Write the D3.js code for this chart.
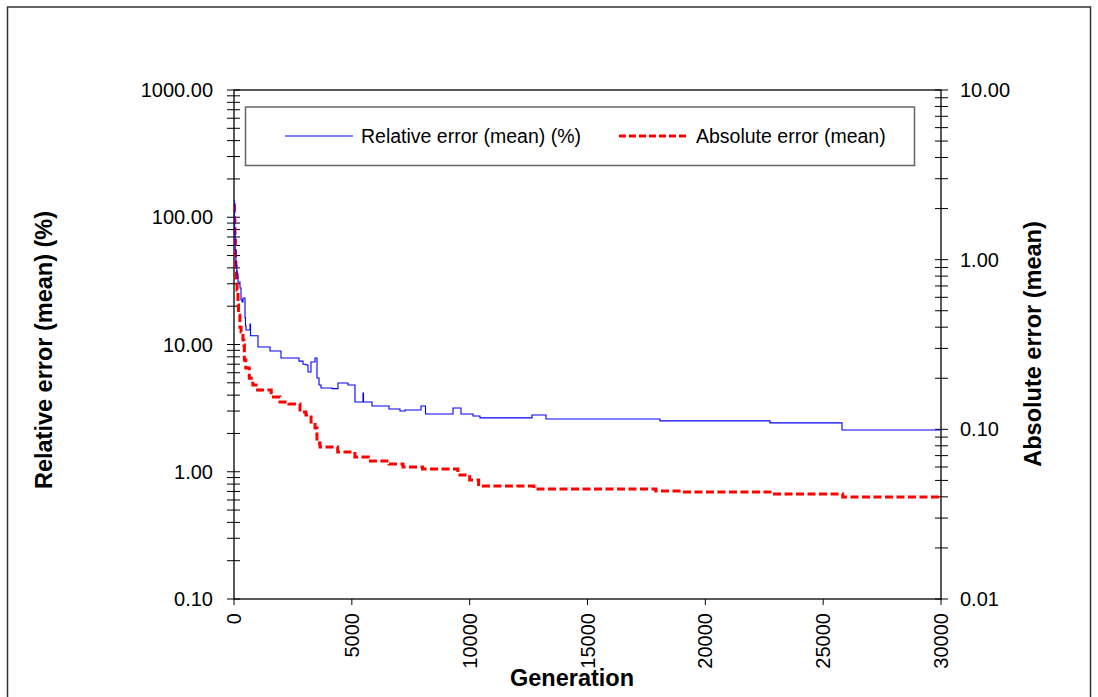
<!DOCTYPE html>
<html>
<head>
<meta charset="utf-8">
<script src="https://cdn.jsdelivr.net/npm/d3@7"></script>
<style>
  body { margin: 0; background: #fff; }
  text { font-family: Arial, "Liberation Sans", sans-serif; }
</style>
</head>
<body>
<script>
// generation / relative error (mean) (%) - left axis
var genRel = [0, 15, 30, 50, 80, 120, 170, 255, 297, 340, 382, 467, 488, 509, 679, 700,
  1018, 1528, 1994, 2758, 2928, 3055, 3140, 3267, 3437, 3522, 3607, 3692, 4158, 4413,
  4837, 5134, 5474, 5495, 5856, 6577, 7044, 7256, 7935, 8126, 9293, 9632, 10141, 10438,
  12645, 13239, 18076, 22744, 25799, 30000];
var relErr = [135, 100, 75, 55, 42, 36, 31, 27.8, 22.5, 21.6, 23.2, 16.2, 14.0, 13.0, 14.5, 11.7,
  9.55, 8.89, 7.83, 7.4, 7.0, 6.9, 6.08, 7.29, 7.83, 5.45, 4.8, 4.55, 4.5, 4.98,
  4.81, 3.53, 4.16, 3.53, 3.29, 3.11, 3.00, 3.06, 3.29, 2.84, 3.17, 2.84, 2.74, 2.65,
  2.79, 2.60, 2.51, 2.42, 2.13, 2.13];

// generation / absolute error (mean) - right axis
var genAbs = [0, 20, 40, 60, 80, 100, 130, 170, 190, 250, 300, 380, 420, 440, 500, 650, 800,
  1000, 1580, 1950, 2330, 2800, 3050, 3270, 3440, 3520, 3650, 4400, 5130, 5700, 6580,
  7170, 8000, 9500, 10000, 10380, 12730, 17900, 19000, 22740, 25830, 30000];
var absErr = [2.1, 1.7, 1.3, 1.0, 0.85, 0.78, 0.66, 0.54, 0.47, 0.40, 0.375, 0.336, 0.314, 0.256, 0.23, 0.20, 0.1825,
  0.1705, 0.155, 0.145, 0.141, 0.1265, 0.1215, 0.1105, 0.1018, 0.0831, 0.0787, 0.0735, 0.0687, 0.065, 0.0625,
  0.060, 0.0584, 0.0538, 0.0503, 0.0463, 0.0445, 0.0433, 0.0427, 0.0416, 0.0399, 0.0399];

var xTicks = [0, 5000, 10000, 15000, 20000, 25000, 30000];
var leftTicks = [0.1, 1, 10, 100, 1000];
var rightTicks = [0.01, 0.1, 1, 10];

var W = 1098, H = 697;
var margin = {top: 90, left: 234, right: 1098 - 941, bottom: 697 - 599};
var width = W - margin.left - margin.right;
var height = H - margin.top - margin.bottom;

var svg = d3.select("body").append("svg")
  .attr("width", W)
  .attr("height", H);

// outer frame
svg.append("rect")
  .attr("x", 7.5).attr("y", 7)
  .attr("width", 1083).attr("height", 720)
  .attr("fill", "none")
  .attr("stroke", "#333")
  .attr("stroke-width", 1.5);

var g = svg.append("g").attr("transform", "translate(" + margin.left + "," + margin.top + ")");

var x = d3.scaleLinear().domain([0, 30000]).range([0, width]);
var yL = d3.scaleLog().domain([0.1, 1000]).range([height, 0]);
var yR = d3.scaleLog().domain([0.01, 10]).range([height, 0]);

svg.append("clipPath").attr("id", "clip")
  .append("rect").attr("width", width).attr("height", height);

// log minor tick values
function logTicks(lo, hi) {
  var out = [];
  for (var d = lo; d < hi * 0.999; d *= 10) {
    for (var k = 1; k < 10; k++) out.push(d * k);
  }
  out.push(hi);
  return out;
}

// left axis
g.append("g").selectAll("line")
  .data(logTicks(0.1, 1000))
  .enter().append("line")
  .attr("x1", -7).attr("x2", 6)
  .attr("y1", function(d) { return yL(d); })
  .attr("y2", function(d) { return yL(d); })
  .attr("stroke", "#000").attr("stroke-width", 1);
g.append("g").selectAll("text")
  .data(leftTicks)
  .enter().append("text")
  .attr("x", -21)
  .attr("y", function(d) { return yL(d); })
  .attr("dy", "0.35em")
  .attr("text-anchor", "end")
  .attr("font-size", 20)
  .text(function(d) { return d3.format(".2f")(d); });

// right axis
g.append("g").selectAll("line")
  .data(logTicks(0.01, 10))
  .enter().append("line")
  .attr("x1", width - 6).attr("x2", width + 7)
  .attr("y1", function(d) { return yR(d); })
  .attr("y2", function(d) { return yR(d); })
  .attr("stroke", "#000").attr("stroke-width", 1);
g.append("g").selectAll("text")
  .data(rightTicks)
  .enter().append("text")
  .attr("x", width + 19)
  .attr("y", function(d) { return yR(d); })
  .attr("dy", "0.35em")
  .attr("text-anchor", "start")
  .attr("font-size", 20)
  .text(function(d) { return d3.format(".2f")(d); });

// x axis
g.append("g").selectAll("line")
  .data(xTicks)
  .enter().append("line")
  .attr("x1", function(d) { return x(d); })
  .attr("x2", function(d) { return x(d); })
  .attr("y1", height).attr("y2", height + 6)
  .attr("stroke", "#000");
g.append("g").selectAll("text")
  .data(xTicks)
  .enter().append("text")
  .attr("transform", function(d) { return "translate(" + x(d) + "," + (height + 14) + ") rotate(-90)"; })
  .attr("dy", "0.35em")
  .attr("text-anchor", "end")
  .attr("font-size", 20)
  .text(function(d) { return d; });

// plot frame
g.append("rect")
  .attr("width", width).attr("height", height)
  .attr("fill", "none")
  .attr("stroke", "#000")
  .attr("stroke-width", 1.3);

// lines
var relLine = d3.line()
  .x(function(d, i) { return x(genRel[i]); })
  .y(function(d) { return yL(d); })
  .curve(d3.curveStepAfter);
var absLine = d3.line()
  .x(function(d, i) { return x(genAbs[i]); })
  .y(function(d) { return yR(d); })
  .curve(d3.curveStepAfter);

var plot = g.append("g").attr("clip-path", "url(#clip)");
plot.append("path")
  .attr("d", absLine(absErr))
  .attr("fill", "none")
  .attr("stroke", "#ff0000")
  .attr("stroke-width", 3)
  .attr("stroke-dasharray", "8,3.5");
plot.append("path")
  .attr("d", relLine(relErr))
  .attr("fill", "none")
  .attr("stroke", "#0000ff")
  .attr("stroke-width", 1.1);

// legend
svg.append("rect")
  .attr("x", 245.5).attr("y", 107)
  .attr("width", 669).attr("height", 58.5)
  .attr("fill", "#fff")
  .attr("stroke", "#666")
  .attr("stroke-width", 1.5);
svg.append("line")
  .attr("x1", 285).attr("x2", 353).attr("y1", 136).attr("y2", 136)
  .attr("stroke", "#0000ff").attr("stroke-width", 1.1);
svg.append("text")
  .attr("x", 361).attr("y", 136).attr("dy", "0.35em")
  .attr("font-size", 19.5)
  .text("Relative error (mean) (%)");
svg.append("line")
  .attr("x1", 619).attr("x2", 688).attr("y1", 136).attr("y2", 136)
  .attr("stroke", "#ff0000").attr("stroke-width", 3)
  .attr("stroke-dasharray", "7,3");
svg.append("text")
  .attr("x", 696).attr("y", 136).attr("dy", "0.35em")
  .attr("font-size", 19.5)
  .text("Absolute error (mean)");

// axis titles
svg.append("text")
  .attr("transform", "translate(44,350) rotate(-90)")
  .attr("dy", "0.35em")
  .attr("text-anchor", "middle")
  .attr("font-size", 23.5)
  .attr("font-weight", "bold")
  .text("Relative error (mean) (%)");
svg.append("text")
  .attr("transform", "translate(1033,344) rotate(-90)")
  .attr("dy", "0.35em")
  .attr("text-anchor", "middle")
  .attr("font-size", 23.5)
  .attr("font-weight", "bold")
  .text("Absolute error (mean)");
svg.append("text")
  .attr("x", 572).attr("y", 678)
  .attr("dy", "0.35em")
  .attr("text-anchor", "middle")
  .attr("font-size", 23.5)
  .attr("font-weight", "bold")
  .text("Generation");
</script>
</body>
</html>
